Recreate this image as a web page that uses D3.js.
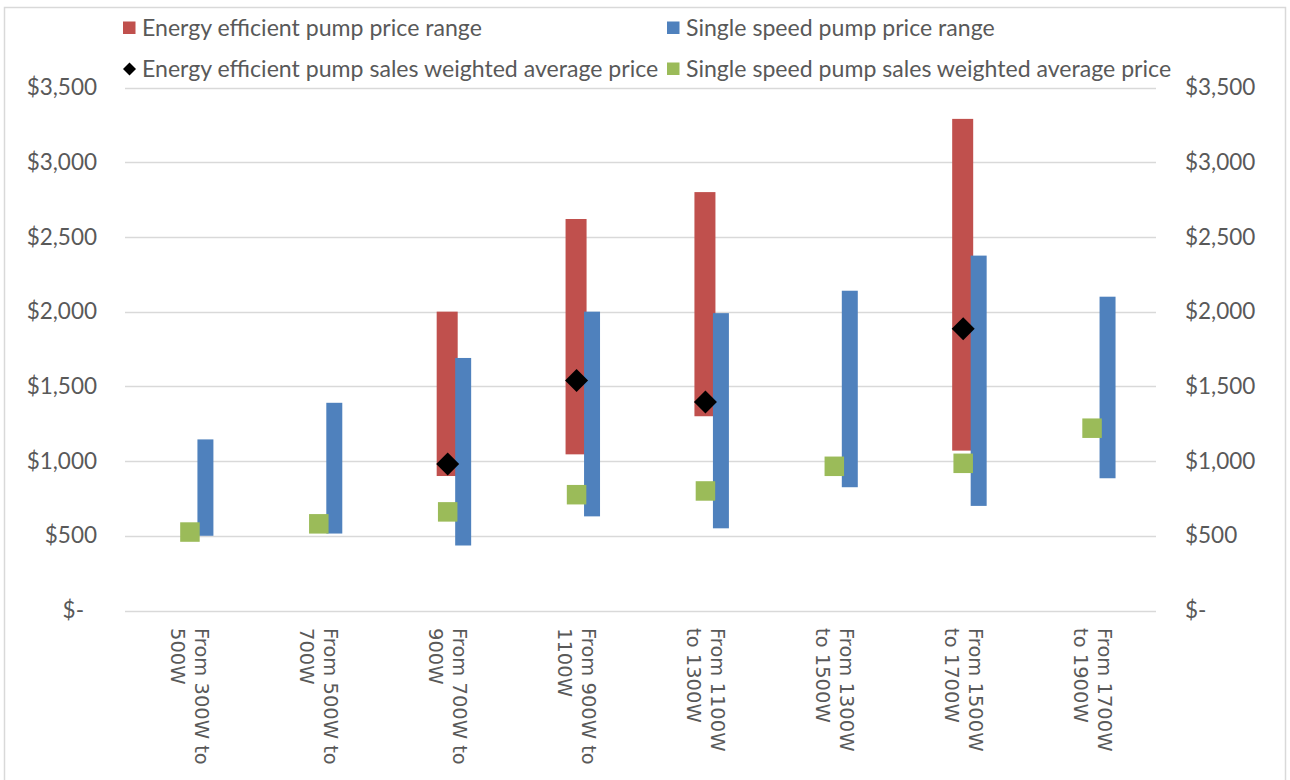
<!DOCTYPE html>
<html>
<head>
<meta charset="utf-8">
<script src="https://cdn.jsdelivr.net/npm/d3@7"></script>
<style>
  html, body { margin: 0; padding: 0; background: #ffffff; }
  svg { display: block; }
</style>
</head>
<body>
<svg id="chart" width="1290" height="780"></svg>
<script>
// Pump power classes (two-line axis labels)
const categories = ["300-500", "500-700", "700-900", "900-1100", "1100-1300", "1300-1500", "1500-1700", "1700-1900"];
const categoryLines = [
  ["From 300W to", "500W"],
  ["From 500W to", "700W"],
  ["From 700W to", "900W"],
  ["From 900W to", "1100W"],
  ["From 1100W", "to 1300W"],
  ["From 1300W", "to 1500W"],
  ["From 1500W", "to 1700W"],
  ["From 1700W", "to 1900W"]
];

// Energy efficient pumps: price range and sales weighted average (null = no data)
const effMin = [null, null, 900, 1045, 1300, null, 1070, null];
const effMax = [null, null, 2000, 2620, 2800, null, 3290, null];
const effAvg = [null, null, 980, 1540, 1395, null, 1885, null];

// Single speed pumps: price range and sales weighted average
const ssMin = [500, 515, 435, 630, 550, 825, 700, 885];
const ssMax = [1145, 1390, 1690, 2000, 1990, 2140, 2375, 2100];
const ssAvg = [525, 580, 660, 775, 800, 965, 985, 1220];

// Axis ticks
const yTicks = [0, 500, 1000, 1500, 2000, 2500, 3000, 3500];

const legendItems = [
  { label: "Energy efficient pump price range", kind: "square", color: "#C0504D" },
  { label: "Single speed pump price range", kind: "square", color: "#4F81BD" },
  { label: "Energy efficient pump sales weighted average price", kind: "diamond", color: "#000000" },
  { label: "Single speed pump sales weighted average price", kind: "square", color: "#9BBB59" }
];

const svg = d3.select("#chart");
const textFont = "Lato, Carlito, Calibri, sans-serif";
const textColor = "#595959";
const gridColor = "#D9D9D9";

// Outer chart frame
svg.append("rect")
  .attr("x", 4.5).attr("y", 7.5)
  .attr("width", 1281).attr("height", 790)
  .attr("fill", "none").attr("stroke", gridColor).attr("stroke-width", 1.5);

const plot = { left: 125, right: 1156, top: 87.5, bottom: 610.5 };

const x = d3.scaleBand().domain(categories).range([plot.left, plot.right]);
const y = d3.scaleLinear().domain([0, 3500]).range([plot.bottom, plot.top]);
const bw = x.bandwidth();
const center = i => x(categories[i]) + bw / 2;

// Gridlines
svg.append("g")
  .selectAll("line")
  .data(yTicks)
  .join("line")
  .attr("x1", plot.left).attr("x2", plot.right)
  .attr("y1", d => Math.round(y(d)) + 0.5).attr("y2", d => Math.round(y(d)) + 0.5)
  .attr("stroke", gridColor).attr("stroke-width", 1.3);

const fmt = d => d === 0 ? "$-" : "$" + d3.format(",")(d);

// Left and right value axes
const leftAxis = svg.append("g")
  .attr("transform", `translate(${plot.left},0)`)
  .call(d3.axisLeft(y).tickValues(yTicks).tickFormat(fmt).tickSize(0).tickPadding(28));
leftAxis.select(".domain").remove();
leftAxis.selectAll("text")
  .attr("font-family", textFont).attr("font-size", 22.5).attr("fill", textColor)
  .attr("x", d => d === 0 ? -41 : -28);

const rightAxis = svg.append("g")
  .attr("transform", `translate(${plot.right},0)`)
  .call(d3.axisRight(y).tickValues(yTicks).tickFormat(fmt).tickSize(0).tickPadding(29));
rightAxis.select(".domain").remove();
rightAxis.selectAll("text")
  .attr("font-family", textFont).attr("font-size", 22.5).attr("fill", textColor);

// Category axis with labels rotated 90 degrees
const xAxis = svg.append("g")
  .attr("transform", `translate(0,${plot.bottom})`)
  .call(d3.axisBottom(x).tickSize(0).tickFormat(""));
xAxis.select(".domain").remove();
xAxis.selectAll(".tick text").remove();
xAxis.selectAll(".tick")
  .append("text")
  .attr("transform", "translate(0,17.5) rotate(90)")
  .attr("text-anchor", "start")
  .attr("font-family", "'DejaVu Sans', Verdana, sans-serif")
  .attr("font-size", 19.5)
  .attr("fill", textColor)
  .each(function (d, i) {
    const t = d3.select(this);
    categoryLines[i].forEach((line, k) => {
      t.append("tspan").attr("x", 0).attr("y", -6 + k * 24).text(line);
    });
  });

// Range bars
const effW = bw * 0.163;
const ssW = bw * 0.124;
const ssOffset = bw * 0.124;

const idx = d3.range(categories.length);

svg.append("g").selectAll("rect")
  .data(idx.filter(i => effMin[i] !== null))
  .join("rect")
  .attr("x", i => center(i) - effW / 2)
  .attr("width", effW)
  .attr("y", i => y(effMax[i]))
  .attr("height", i => y(effMin[i]) - y(effMax[i]))
  .attr("fill", "#C0504D");

svg.append("g").selectAll("rect")
  .data(idx)
  .join("rect")
  .attr("x", i => center(i) + ssOffset - ssW / 2)
  .attr("width", ssW)
  .attr("y", i => y(ssMax[i]))
  .attr("height", i => y(ssMin[i]) - y(ssMax[i]))
  .attr("fill", "#4F81BD");

// Average price markers
const dHalf = 11.5;
svg.append("g").selectAll("path")
  .data(idx.filter(i => effAvg[i] !== null))
  .join("path")
  .attr("d", i => {
    const cx = center(i) + 0.5, cy = y(effAvg[i]);
    return `M${cx},${cy - dHalf}L${cx + dHalf},${cy}L${cx},${cy + dHalf}L${cx - dHalf},${cy}Z`;
  })
  .attr("fill", "#000000");

const sq = 19.5;
svg.append("g").selectAll("rect")
  .data(idx)
  .join("rect")
  .attr("x", i => center(i) + 0.5 - sq / 2)
  .attr("y", i => y(ssAvg[i]) - sq / 2)
  .attr("width", sq).attr("height", sq)
  .attr("fill", "#9BBB59");

// Legend (two columns, two rows)
const legendPos = [
  { x: 123, y: 28 }, { x: 667, y: 28 },
  { x: 123, y: 69 }, { x: 667, y: 69 }
];
const legend = svg.append("g");
legendItems.forEach((item, i) => {
  const p = legendPos[i];
  const g = legend.append("g").attr("transform", `translate(${p.x},${p.y})`);
  if (item.kind === "diamond") {
    g.append("path").attr("d", "M6.5,-6.5L13,0L6.5,6.5L0,0Z").attr("fill", item.color);
  } else {
    g.append("rect").attr("x", 0).attr("y", -6.5).attr("width", 12.5).attr("height", 12.5).attr("fill", item.color);
  }
  g.append("text")
    .attr("x", 19).attr("dy", "0.34em")
    .attr("font-family", textFont).attr("font-size", 23.1).attr("fill", textColor)
    .text(item.label);
});
</script>
</body>
</html>
